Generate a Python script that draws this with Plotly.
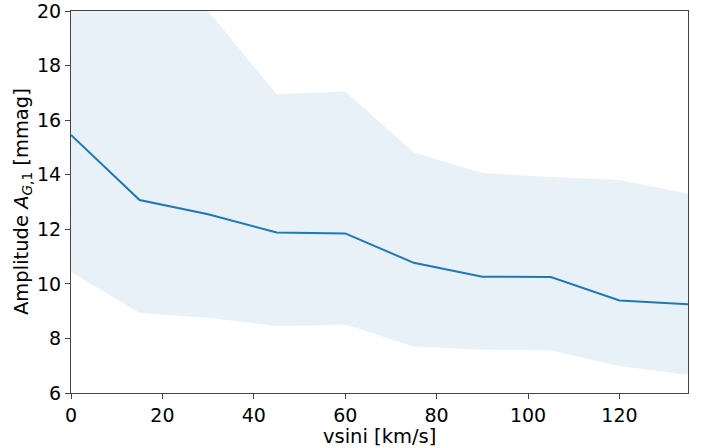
import plotly.graph_objects as go

vsini = [0, 15, 30, 45, 60, 75, 90, 105, 120, 135]
amp_mean = [15.46, 13.07, 12.55, 11.88, 11.85, 10.77, 10.26, 10.25, 9.39, 9.25]
amp_upper = [22.0, 20.6, 20.0, 16.95, 17.05, 14.81, 14.06, 13.92, 13.81, 13.30]
amp_lower = [10.43, 8.93, 8.76, 8.45, 8.51, 7.70, 7.59, 7.56, 6.99, 6.67]

x_ticks = [0, 20, 40, 60, 80, 100, 120]
y_ticks = [6, 8, 10, 12, 14, 16, 18, 20]

fig = go.Figure()
fig.add_trace(go.Scatter(x=vsini, y=amp_upper, mode="lines", line=dict(width=0),
                         showlegend=False, hoverinfo="skip"))
fig.add_trace(go.Scatter(x=vsini, y=amp_lower, mode="lines", line=dict(width=0),
                         fill="tonexty", fillcolor="rgba(31,119,180,0.1)",
                         showlegend=False, hoverinfo="skip"))
fig.add_trace(go.Scatter(x=vsini, y=amp_mean, mode="lines",
                         line=dict(color="#1f77b4", width=2), showlegend=False))

font = dict(family="DejaVu Sans", size=19, color="black")
title_font = dict(family="DejaVu Sans", size=19.5, color="black")
axis_common = dict(showgrid=False, zeroline=False, showline=True, linecolor="#444",
                   linewidth=1.2, mirror=True, ticks="outside", ticklen=5,
                   tickcolor="#444", tickfont=font, automargin=False,
                   ticklabeloverflow="allow")
fig.update_layout(
    width=708, height=448,
    margin=dict(l=71, r=20, t=11, b=55),
    plot_bgcolor="white", paper_bgcolor="white",
    font=font,
    xaxis=dict(range=[0, 135], tickvals=x_ticks, **axis_common),
    yaxis=dict(range=[6, 20], tickvals=y_ticks, **axis_common),
    annotations=[
        dict(text="vsini [km/s]", x=0.5, y=0, xref="paper", yref="paper",
             xanchor="center", yanchor="middle", yshift=-43, showarrow=False, font=title_font),
        dict(text="Amplitude <i>A</i><sub><i>G</i>,1</sub> [mmag]", x=0, y=0.5,
             xref="paper", yref="paper", xanchor="center", yanchor="middle",
             xshift=-49, textangle=-90, showarrow=False, font=title_font),
    ],
)
fig.write_html("out.html", config={"displayModeBar": False},
               post_script="document.body.style.margin='0px';")
